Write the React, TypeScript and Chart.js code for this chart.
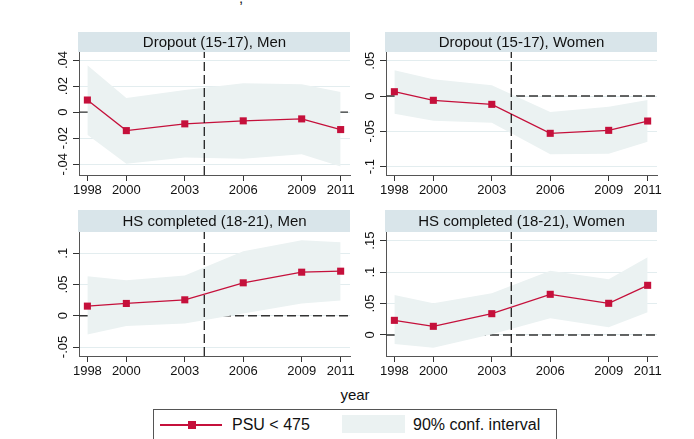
import React, { useEffect, useRef } from 'react';
import { Chart, registerables } from 'chart.js';

Chart.register(...registerables);

// ---------- data ----------
const years = [1998, 2000, 2003, 2006, 2009, 2011];
const reformYear = 2004;

const dropMenEst = [0.0093, -0.0142, -0.009, -0.0067, -0.0052, -0.0134];
const dropMenHi = [0.0361, 0.0108, 0.017, 0.0222, 0.0214, 0.0155];
const dropMenLo = [-0.0173, -0.0397, -0.0348, -0.0359, -0.0323, -0.0418];

const dropWomenEst = [0.0061, -0.0061, -0.0118, -0.0528, -0.0486, -0.0354];
const dropWomenHi = [0.0363, 0.0236, 0.0151, -0.0226, -0.0151, -0.0057];
const dropWomenLo = [-0.025, -0.0349, -0.0377, -0.0825, -0.0816, -0.0646];

const hsMenEst = [0.0154, 0.0197, 0.0255, 0.0527, 0.0697, 0.0713];
const hsMenHi = [0.0633, 0.0569, 0.0644, 0.1032, 0.1207, 0.1176];
const hsMenLo = [-0.0298, -0.0165, -0.0122, 0.0037, 0.0197, 0.0245];

const hsWomenEst = [0.0233, 0.0138, 0.0339, 0.0647, 0.0504, 0.079];
const hsWomenHi = [0.0636, 0.0504, 0.0663, 0.1023, 0.0885, 0.1235];
const hsWomenLo = [-0.0143, -0.0201, 0.001, 0.0265, 0.0122, 0.036];

const dropMenTicks = [-0.04, -0.02, 0, 0.02, 0.04];
const dropMenTickLabels = ['-.04', '-.02', '0', '.02', '.04'];
const dropWomenTicks = [-0.1, -0.05, 0, 0.05];
const dropWomenTickLabels = ['-.1', '-.05', '0', '.05'];
const hsMenTicks = [-0.05, 0, 0.05, 0.1];
const hsMenTickLabels = ['-.05', '0', '.05', '.1'];
const hsWomenTicks = [0, 0.05, 0.1, 0.15];
const hsWomenTickLabels = ['0', '.05', '.1', '.15'];

const panelTitles = [
  'Dropout (15-17), Men',
  'Dropout (15-17), Women',
  'HS completed (18-21), Men',
  'HS completed (18-21), Women',
];

const xRange = [1997.57, 2011.48];
const dropMenRange = [-0.0483, 0.0462];
const dropWomenRange = [-0.1118, 0.0623];
const hsMenRange = [-0.0644, 0.134];
const hsWomenRange = [-0.0334, 0.1638];

const seriesLabel = 'PSU < 475';
const bandLabel = '90% conf. interval';
const xTitle = 'year';

// ---------- style ----------
const FONT = '"Liberation Sans", Arial, Helvetica, sans-serif';
const RED = '#c5103b';
const BAND = '#ebf2f2';
const STRIP = '#d9e5ea';
const GRID = '#e3edef';

const stripPlugin = {
  id: 'stripTitle',
  beforeDraw(chart: any, _a: any, opts: any) {
    const { left, right, top } = chart.chartArea;
    const ctx = chart.ctx;
    ctx.save();
    ctx.fillStyle = STRIP;
    ctx.fillRect(left - 1, top - opts.h, right - left + 1, opts.h);
    ctx.fillStyle = '#111';
    ctx.font = `15px ${FONT}`;
    ctx.textAlign = 'center';
    ctx.textBaseline = 'middle';
    ctx.fillText(opts.text, (left + right) / 2, top - opts.h / 2 + 1);
    ctx.restore();
  },
};

const yLabelPlugin = {
  id: 'yLabels',
  afterDraw(chart: any, _a: any, opts: any) {
    const s = chart.scales.y;
    const ctx = chart.ctx;
    ctx.save();
    ctx.font = `13px ${FONT}`;
    ctx.fillStyle = '#111';
    ctx.textAlign = 'center';
    ctx.textBaseline = 'middle';
    s.ticks.forEach((t: any, i: number) => {
      const y = s.getPixelForValue(t.value);
      ctx.save();
      ctx.translate(chart.chartArea.left - 16, y);
      ctx.rotate(-Math.PI / 2);
      ctx.fillText(opts.labels[i], 0, 0);
      ctx.restore();
    });
    ctx.restore();
  },
};

type PanelDef = {
  title: string;
  est: number[];
  hi: number[];
  lo: number[];
  ticks: number[];
  tickLabels: string[];
  range: number[];
  left: number;
  top: number;
  w: number;
  h: number;
  stripH: number;
};

const panels: PanelDef[] = [
  { title: panelTitles[0], est: dropMenEst, hi: dropMenHi, lo: dropMenLo, ticks: dropMenTicks, tickLabels: dropMenTickLabels, range: dropMenRange, left: 79, top: 52, w: 271, h: 123, stripH: 20 },
  { title: panelTitles[1], est: dropWomenEst, hi: dropWomenHi, lo: dropWomenLo, ticks: dropWomenTicks, tickLabels: dropWomenTickLabels, range: dropWomenRange, left: 386, top: 52, w: 271, h: 123, stripH: 20 },
  { title: panelTitles[2], est: hsMenEst, hi: hsMenHi, lo: hsMenLo, ticks: hsMenTicks, tickLabels: hsMenTickLabels, range: hsMenRange, left: 79, top: 232, w: 271, h: 124, stripH: 22 },
  { title: panelTitles[3], est: hsWomenEst, hi: hsWomenHi, lo: hsWomenLo, ticks: hsWomenTicks, tickLabels: hsWomenTickLabels, range: hsWomenRange, left: 386, top: 232, w: 271, h: 124, stripH: 22 },
];

const PL = 10, YW = 40, PR = 20, PT = 30, PB = 5, XH = 25;

function Panel({ p }: { p: PanelDef }) {
  const ref = useRef<HTMLCanvasElement | null>(null);
  const cw = p.w + PL + YW + PR;
  const ch = p.h + PT + PB + XH;
  useEffect(() => {
    const [xMin, xMax] = xRange;
    const [yMin, yMax] = p.range;
    const chart = new Chart(ref.current as HTMLCanvasElement, {
      type: 'line',
      data: {
        datasets: [
          {
            data: [{ x: xMin, y: 0 }, { x: xMax, y: 0 }],
            borderColor: '#333', borderWidth: 1.4, borderDash: [9, 4],
            pointRadius: 0, fill: false, order: 10,
          },
          {
            data: years.map((x, i) => ({ x, y: p.hi[i] })),
            borderWidth: 0, borderColor: 'rgba(0,0,0,0)', pointRadius: 0,
            fill: '+1', backgroundColor: BAND, order: 5,
          },
          {
            data: years.map((x, i) => ({ x, y: p.lo[i] })),
            borderWidth: 0, borderColor: 'rgba(0,0,0,0)', pointRadius: 0,
            fill: false, order: 5,
          },
          {
            data: years.map((x, i) => ({ x, y: p.est[i] })),
            borderColor: RED, borderWidth: 1.3, pointStyle: 'rect', pointRadius: 5,
            pointBackgroundColor: RED, pointBorderColor: RED, pointBorderWidth: 0,
            fill: false, order: 1,
          },
          {
            data: [{ x: reformYear, y: yMin }, { x: reformYear, y: yMax }],
            borderColor: '#111', borderWidth: 1.2, borderDash: [9, 4],
            pointRadius: 0, fill: false, order: 0,
          },
        ],
      } as any,
      options: {
        animation: false,
        responsive: false,
        maintainAspectRatio: false,
        devicePixelRatio: 1,
        layout: { padding: { left: PL, right: PR, top: PT, bottom: PB } },
        plugins: {
          legend: { display: false },
          tooltip: { enabled: false },
          stripTitle: { text: p.title, h: p.stripH },
          yLabels: { labels: p.tickLabels },
        } as any,
        scales: {
          x: {
            type: 'linear', min: xMin, max: xMax,
            afterBuildTicks: (s: any) => { s.ticks = years.map((v) => ({ value: v })); },
            afterFit: (s: any) => { s.height = XH; },
            ticks: {
              callback: (v: any) => String(v),
              font: { family: FONT, size: 13 }, color: '#111', padding: 2,
              maxRotation: 0, minRotation: 0, autoSkip: false,
            },
            grid: { drawOnChartArea: false, tickLength: 6, tickColor: '#333', tickWidth: 1 },
            border: { display: true, color: '#555', width: 1 },
          },
          y: {
            type: 'linear', min: yMin, max: yMax,
            afterBuildTicks: (s: any) => { s.ticks = p.ticks.map((v) => ({ value: v })); },
            afterFit: (s: any) => { s.width = YW; },
            ticks: { display: false },
            grid: { color: GRID, lineWidth: 1, tickLength: 6, tickColor: '#333', tickWidth: 1 },
            border: { display: true, color: '#555', width: 1 },
          },
        } as any,
      },
      plugins: [stripPlugin, yLabelPlugin],
    } as any);
    return () => chart.destroy();
  }, []);
  return (
    <canvas
      ref={ref}
      width={cw}
      height={ch}
      style={{ position: 'absolute', left: p.left - PL - YW, top: p.top - PT, width: cw, height: ch }}
    />
  );
}

export default function App() {
  return (
    <div style={{ position: 'absolute', left: 0, top: 0, width: 694, height: 439, overflow: 'hidden', background: '#fff', fontFamily: FONT, color: '#111' }}>
      <div style={{ position: 'absolute', left: 239, top: -10, fontSize: 15, lineHeight: '15px' }}>,</div>
      {panels.map((p, i) => <Panel key={i} p={p} />)}
      <div style={{ position: 'absolute', left: 305, width: 100, top: 386, textAlign: 'center', fontSize: 15, lineHeight: '18px' }}>{xTitle}</div>
      <div style={{ position: 'absolute', left: 153, top: 409, width: 404, height: 34, border: '1px solid #555', boxSizing: 'border-box', background: '#fff' }}>
        <div style={{ position: 'absolute', left: 6, top: 14, width: 62, height: 1.5, background: RED }} />
        <div style={{ position: 'absolute', left: 34, top: 11, width: 8, height: 8, background: RED }} />
        <div style={{ position: 'absolute', left: 78, top: 5, fontSize: 16, lineHeight: '20px', whiteSpace: 'nowrap' }}>{seriesLabel}</div>
        <div style={{ position: 'absolute', left: 188, top: 5, width: 63, height: 18, background: BAND }} />
        <div style={{ position: 'absolute', left: 259, top: 5, fontSize: 16, lineHeight: '20px', whiteSpace: 'nowrap' }}>{bandLabel}</div>
      </div>
    </div>
  );
}
